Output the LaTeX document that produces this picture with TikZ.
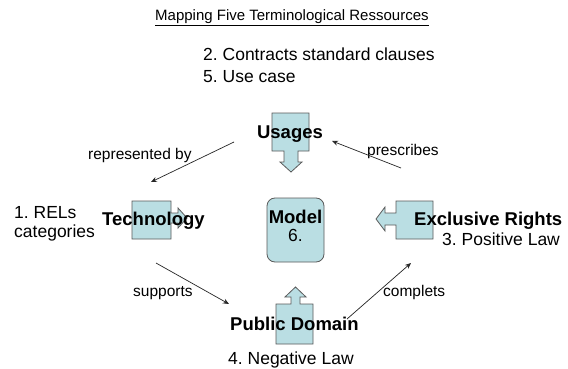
\documentclass[tikz,border=0pt]{standalone}
\usepackage{fontspec}
\setmainfont{Liberation Sans}
\usetikzlibrary{arrows.meta}
\frenchspacing
\definecolor{boxfill}{RGB}{186,222,227}
\definecolor{boxline}{RGB}{90,90,90}
\tikzset{
  shapebox/.style={fill=boxfill,draw=boxline,line width=0.8pt},
  bigbold/.style={font=\fontsize{18.5}{20}\selectfont\bfseries,inner sep=0pt},
  normtext/.style={font=\fontsize{17.5}{20}\selectfont,inner sep=0pt},
  lbltext/.style={font=\fontsize{15.5}{18}\selectfont,inner sep=0pt},
  conn/.style={draw=black!85,line width=0.7pt,-{Stealth[length=6pt,width=5pt]}}
}
\begin{document}
\begin{tikzpicture}[x=1pt,y=-1pt]
\useasboundingbox (0,0) rectangle (568,369);
\fill[white] (0,0) rectangle (568,369);
% title
\node[font=\fontsize{15}{17}\selectfont,inner sep=0pt,anchor=base west] (title) at (155,21) {\underline{Mapping Five Terminological Ressources}};
\node[normtext,anchor=base west] (contracts) at (203,61) {2. Contracts standard clauses};
\node[normtext,anchor=base west] (usecase) at (203,83) {5. Use case};
% shapes
\draw[shapebox] (272,113) -- (309,113) -- (309,151) -- (298,151) -- (298,162) -- (302,162) -- (291,172) -- (280,162) -- (284,162) -- (284,151) -- (272,151) -- cycle;
\draw[shapebox] (132,201) -- (171,201) -- (171,213) -- (178,213) -- (178,208) -- (187,218) -- (178,228) -- (178,223) -- (171,223) -- (171,239) -- (132,239) -- cycle;
\draw[shapebox] (433,201) -- (396,201) -- (396,213) -- (385,213) -- (385,207) -- (376,219) -- (385,231) -- (385,225) -- (396,225) -- (396,239) -- (433,239) -- cycle;
\draw[shapebox] (276,344) -- (313,344) -- (313,304) -- (300,304) -- (300,297) -- (306,297) -- (295.5,287) -- (285,297) -- (291,297) -- (291,304) -- (276,304) -- cycle;
\draw[shapebox,rounded corners=8pt] (267,198) rectangle (324,262);
% main texts
\node[bigbold,anchor=base] (usages) at (290,138) {Usages};
\node[bigbold,anchor=base west] (tech) at (102,225) {Technology};
\node[bigbold,anchor=base] (model) at (295.5,223) {Model};
\node[normtext,anchor=base] (six) at (295.5,241) {6.};
\node[bigbold,anchor=base west] (excl) at (414,225) {Exclusive Rights};
\node[normtext,anchor=base west] (poslaw) at (442,245) {3. Positive Law};
\node[bigbold,anchor=base west] (pub) at (230,330) {Public Domain};
\node[normtext,anchor=base west] (neglaw) at (228,364) {4. Negative Law};
\node[normtext,anchor=base west] (rels) at (14,218) {1. RELs};
\node[normtext,anchor=base west] (cats) at (14,237) {categories};
% connector labels
\node[lbltext,anchor=base west] (repby) at (88,159) {represented by};
\node[lbltext,anchor=base west] (presc) at (367,155) {prescribes};
\node[lbltext,anchor=base west] (supp) at (133,296) {supports};
\node[lbltext,anchor=base west] (compl) at (383,296) {complets};
% connector ends
\coordinate (r1) at (234,142);
\coordinate (r2) at (151,182);
\coordinate (p1) at (401,168);
\coordinate (p2) at (332,141);
\coordinate (s1) at (156,263);
\coordinate (s2) at (229,304);
\coordinate (c1) at (347,319);
\coordinate (c2) at (411,263);
\draw[conn] (r1) -- (r2);
\draw[conn] (p1) -- (p2);
\draw[conn] (s1) -- (s2);
\draw[conn] (c1) -- (c2);
\end{tikzpicture}
\end{document}
